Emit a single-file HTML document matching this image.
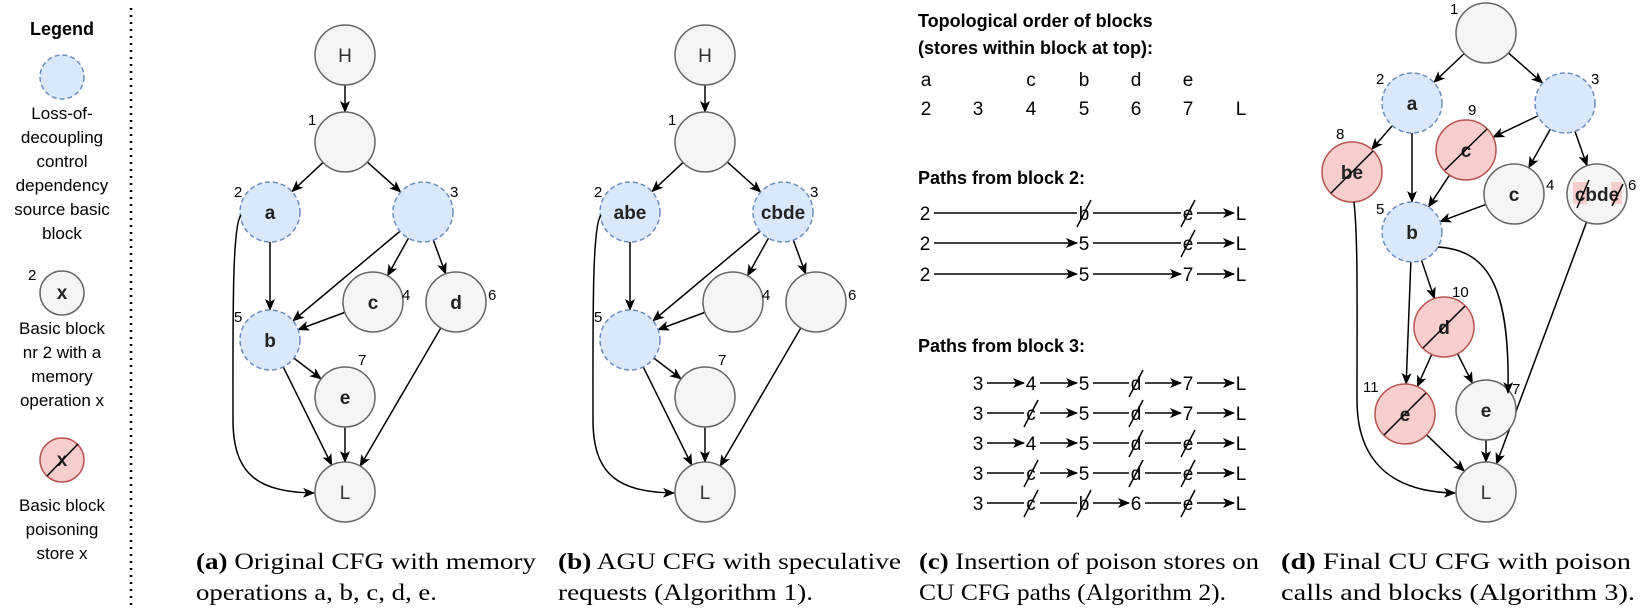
<!DOCTYPE html>
<html><head><meta charset="utf-8"><style>
body{margin:0;background:#fff;}
svg{display:block;font-family:"Liberation Sans",sans-serif;}
.g{fill:#f5f5f5;stroke:#666;stroke-width:1.5}
.bl{fill:#dae8fc;stroke:#6c8ebf;stroke-width:1.5;stroke-dasharray:5 3}
.r{fill:#f8cecc;stroke:#b85450;stroke-width:1.5}
.lb{font-size:19px;font-weight:bold;text-anchor:middle;fill:#222}
.ln{font-size:19px;text-anchor:middle;fill:#333}
.n{font-size:15px;fill:#000}
.t{font-size:17px;text-anchor:middle;fill:#000}
.h{font-size:18px;font-weight:bold;fill:#000}
.cap{font-family:"Liberation Serif",serif;font-size:23px;fill:#000}
.e{stroke:#000;stroke-width:1.5;fill:none}
.p{font-size:19px;text-anchor:middle;fill:#000}
</style></head><body>
<svg id="s" width="1644" height="611" viewBox="0 0 1644 611" xmlns="http://www.w3.org/2000/svg">
<defs><marker id="ar" markerWidth="12" markerHeight="10" refX="11" refY="5" orient="auto" markerUnits="userSpaceOnUse"><path d="M0,0 L12,5 L0,10 L3,5 z" fill="#000"/></marker></defs>
<!-- Legend -->
<text x="62" y="35" class="h" text-anchor="middle">Legend</text>
<circle cx="62" cy="77" r="22" class="bl"/>
<g class="t"><text x="62" y="119">Loss-of-</text><text x="62" y="143">decoupling</text><text x="62" y="167">control</text><text x="62" y="191">dependency</text><text x="62" y="215">source basic</text><text x="62" y="239">block</text></g>
<circle cx="62" cy="293" r="22" class="g"/><text x="62" y="299" class="lb">x</text><text x="28" y="280" class="n">2</text>
<g class="t"><text x="62" y="334">Basic block</text><text x="62" y="358">nr 2 with a</text><text x="62" y="382">memory</text><text x="62" y="406">operation x</text></g>
<circle cx="62" cy="460" r="22" class="r"/><text x="62" y="466" class="lb">x</text><line x1="47" y1="476" x2="78" y2="444" class="e"/>
<g class="t"><text x="62" y="511">Basic block</text><text x="62" y="535">poisoning</text><text x="62" y="559">store x</text></g>
<line x1="131" y1="8" x2="131" y2="605" stroke="#000" stroke-width="2.5" stroke-dasharray="2 5"/>
<g id="edges"></g>
<!-- Panel a nodes -->
<circle cx="345" cy="55" r="30" class="g"/><text x="345" y="62" class="ln">H</text>
<circle cx="345" cy="142" r="30" class="g"/><text x="308" y="125" class="n">1</text>
<circle cx="270" cy="212" r="30" class="bl"/><text x="270" y="219" class="lb">a</text><text x="234" y="197" class="n">2</text>
<circle cx="423" cy="212" r="30" class="bl"/><text x="450" y="197" class="n">3</text>
<circle cx="373" cy="302" r="30" class="g"/><text x="373" y="309" class="lb">c</text><text x="402" y="300" class="n">4</text>
<circle cx="456" cy="302" r="30" class="g"/><text x="456" y="309" class="lb">d</text><text x="488" y="300" class="n">6</text>
<circle cx="270" cy="340" r="30" class="bl"/><text x="270" y="347" class="lb">b</text><text x="234" y="322" class="n">5</text>
<circle cx="345" cy="397" r="30" class="g"/><text x="345" y="404" class="lb">e</text><text x="358" y="365" class="n">7</text>
<circle cx="345" cy="492" r="30" class="g"/><text x="345" y="499" class="ln">L</text>
<!-- Panel b nodes -->
<circle cx="705" cy="55" r="30" class="g"/><text x="705" y="62" class="ln">H</text>
<circle cx="705" cy="142" r="30" class="g"/><text x="668" y="125" class="n">1</text>
<circle cx="630" cy="212" r="30" class="bl"/><text x="630" y="219" class="lb">abe</text><text x="594" y="197" class="n">2</text>
<circle cx="783" cy="212" r="30" class="bl"/><text x="783" y="219" class="lb">cbde</text><text x="810" y="197" class="n">3</text>
<circle cx="733" cy="302" r="30" class="g"/><text x="762" y="300" class="n">4</text>
<circle cx="816" cy="302" r="30" class="g"/><text x="848" y="300" class="n">6</text>
<circle cx="630" cy="340" r="30" class="bl"/><text x="594" y="322" class="n">5</text>
<circle cx="705" cy="397" r="30" class="g"/><text x="718" y="365" class="n">7</text>
<circle cx="705" cy="492" r="30" class="g"/><text x="705" y="499" class="ln">L</text>
<!-- Panel c -->
<text x="918" y="27" class="h">Topological order of blocks</text>
<text x="918" y="54" class="h">(stores within block at top):</text>
<g class="p"><text x="926" y="86">a</text><text x="1031" y="86">c</text><text x="1084" y="86">b</text><text x="1136" y="86">d</text><text x="1188" y="86">e</text>
<text x="926" y="115">2</text><text x="978" y="115">3</text><text x="1031" y="115">4</text><text x="1084" y="115">5</text><text x="1136" y="115">6</text><text x="1188" y="115">7</text><text x="1241" y="115">L</text></g>
<text x="918" y="184" class="h">Paths from block 2:</text>
<text x="918" y="352" class="h">Paths from block 3:</text>
<g id="paths" class="p"></g>
<!-- Panel d nodes -->
<circle cx="1486" cy="33" r="30" class="g"/><text x="1450" y="14" class="n">1</text>
<circle cx="1412" cy="103" r="30" class="bl"/><text x="1412" y="110" class="lb">a</text><text x="1376" y="84" class="n">2</text>
<circle cx="1565" cy="103" r="30" class="bl"/><text x="1591" y="84" class="n">3</text>
<circle cx="1352" cy="172" r="30" class="r"/><text x="1352" y="179" class="lb">be</text><line x1="1331" y1="193" x2="1373" y2="151" class="e"/><text x="1336" y="139" class="n">8</text>
<circle cx="1466" cy="150" r="30" class="r"/><text x="1466" y="157" class="lb">c</text><line x1="1445" y1="170" x2="1487" y2="129" class="e"/><text x="1468" y="115" class="n">9</text>
<circle cx="1514" cy="194" r="30" class="g"/><text x="1514" y="201" class="lb">c</text><text x="1546" y="190" class="n">4</text>
<circle cx="1597" cy="194" r="30" class="g"/><rect x="1573" y="182" width="14" height="22" fill="#f8cecc"/><rect x="1611" y="182" width="11" height="22" fill="#f8cecc"/><text x="1597" y="201" class="lb">cbde</text><line x1="1577" y1="208" x2="1589" y2="180" class="e"/><line x1="1612" y1="206" x2="1623" y2="184" class="e"/><text x="1628" y="190" class="n">6</text>
<circle cx="1412" cy="232" r="30" class="bl"/><text x="1412" y="239" class="lb">b</text><text x="1376" y="214" class="n">5</text>
<circle cx="1444" cy="327" r="30" class="r"/><text x="1444" y="334" class="lb">d</text><line x1="1423" y1="348" x2="1465" y2="306" class="e"/><text x="1452" y="297" class="n">10</text>
<circle cx="1405" cy="414" r="30" class="r"/><text x="1405" y="421" class="lb">e</text><line x1="1384" y1="435" x2="1426" y2="393" class="e"/><text x="1363" y="392" class="n">11</text>
<circle cx="1486" cy="410" r="30" class="g"/><text x="1486" y="417" class="lb">e</text><text x="1512" y="394" class="n">7</text>
<circle cx="1486" cy="492" r="30" class="g"/><text x="1486" y="499" class="ln">L</text>
<!-- captions -->
<text x="196" y="569" class="cap" textLength="340" lengthAdjust="spacingAndGlyphs"><tspan font-weight="bold">(a)</tspan> Original CFG with memory</text>
<text x="196" y="600" class="cap" textLength="241" lengthAdjust="spacingAndGlyphs">operations a, b, c, d, e.</text>
<text x="558" y="569" class="cap" textLength="343" lengthAdjust="spacingAndGlyphs"><tspan font-weight="bold">(b)</tspan> AGU CFG with speculative</text>
<text x="558" y="600" class="cap" textLength="255" lengthAdjust="spacingAndGlyphs">requests (Algorithm 1).</text>
<text x="919" y="569" class="cap" textLength="340" lengthAdjust="spacingAndGlyphs"><tspan font-weight="bold">(c)</tspan> Insertion of poison stores on</text>
<text x="919" y="600" class="cap" textLength="307" lengthAdjust="spacingAndGlyphs">CU CFG paths (Algorithm 2).</text>
<text x="1281" y="569" class="cap" textLength="350" lengthAdjust="spacingAndGlyphs"><tspan font-weight="bold">(d)</tspan> Final CU CFG with poison</text>
<text x="1281" y="600" class="cap" textLength="354" lengthAdjust="spacingAndGlyphs">calls and blocks (Algorithm 3).</text>
<!-- static curves -->
<path class="e" marker-end="url(#ar)" d="M241,215 C232,225 233,320 233,420 C233,478 262,492 314,493"/>
<path class="e" marker-end="url(#ar)" d="M601,215 C592,225 593,320 593,420 C593,478 622,492 674,493"/>
<path class="e" marker-end="url(#ar)" d="M1354,202 C1358,240 1357,300 1357,400 C1357,460 1390,492 1455,493"/>
<path class="e" marker-end="url(#ar)" d="M1438,247 C1490,250 1510,290 1508,393"/>
</svg>
<script>
var NS="http://www.w3.org/2000/svg",E=document.getElementById("edges");
function ln(x1,y1,x2,y2,arrow){var l=document.createElementNS(NS,"line");l.setAttribute("x1",x1);l.setAttribute("y1",y1);l.setAttribute("x2",x2);l.setAttribute("y2",y2);l.setAttribute("class","e");if(arrow)l.setAttribute("marker-end","url(#ar)");E.appendChild(l);}
function ed(a,b,r){var dx=b[0]-a[0],dy=b[1]-a[1],d=Math.hypot(dx,dy);r=r||30;ln(a[0]+dx/d*r,a[1]+dy/d*r,b[0]-dx/d*r,b[1]-dy/d*r,1);}
var A={H:[345,55],1:[345,142],a:[270,212],3:[423,212],c:[373,302],d:[456,302],b:[270,340],e:[345,397],L:[345,492]};
[["H",1],[1,"a"],[1,3],["a","b"],[3,"b"],[3,"c"],[3,"d"],["c","b"],["b","e"],["b","L"],["e","L"],["d","L"]].forEach(function(p){ed(A[p[0]],A[p[1]]);ed([A[p[0]][0]+360,A[p[0]][1]],[A[p[1]][0]+360,A[p[1]][1]]);});
var D={1:[1486,33],a:[1412,103],3:[1565,103],be:[1352,172],c9:[1466,150],c4:[1514,194],x6:[1597,194],b:[1412,232],d:[1444,327],e11:[1405,414],e7:[1486,410],L:[1486,492]};
[[1,"a"],[1,3],["a","be"],["a","b"],[3,"c9"],[3,"c4"],[3,"x6"],["c9","b"],["c4","b"],["b","d"],["b","e11"],["d","e11"],["d","e7"],["e11","L"],["e7","L"],["x6","L"]].forEach(function(p){ed(D[p[0]],D[p[1]],30);});
var P=document.getElementById("paths");
var X=[925,978,1031,1084,1136,1188,1241];
function txt(x,y,s){var t=document.createElementNS(NS,"text");t.setAttribute("x",x);t.setAttribute("y",y);t.textContent=s;P.appendChild(t);}
function row(y,items){var prev=null;items.forEach(function(it){var x=X[it[0]],s=it[1],st=it[2];txt(x,y+7,s);if(st){ln(x-7,y+14,x+7,y-13,0);}
if(prev!==null){ln(prev+9,y,x-7,y,!st);}prev=x;});}
row(213,[[0,"2"],[3,"b",1],[5,"e",1],[6,"L"]]);
row(243,[[0,"2"],[3,"5"],[5,"e",1],[6,"L"]]);
row(274,[[0,"2"],[3,"5"],[5,"7"],[6,"L"]]);
row(383,[[1,"3"],[2,"4"],[3,"5"],[4,"d",1],[5,"7"],[6,"L"]]);
row(413,[[1,"3"],[2,"c",1],[3,"5"],[4,"d",1],[5,"7"],[6,"L"]]);
row(443,[[1,"3"],[2,"4"],[3,"5"],[4,"d",1],[5,"e",1],[6,"L"]]);
row(473,[[1,"3"],[2,"c",1],[3,"5"],[4,"d",1],[5,"e",1],[6,"L"]]);
row(503,[[1,"3"],[2,"c",1],[3,"b",1],[4,"6"],[5,"e",1],[6,"L"]]);
</script>
</body></html>
